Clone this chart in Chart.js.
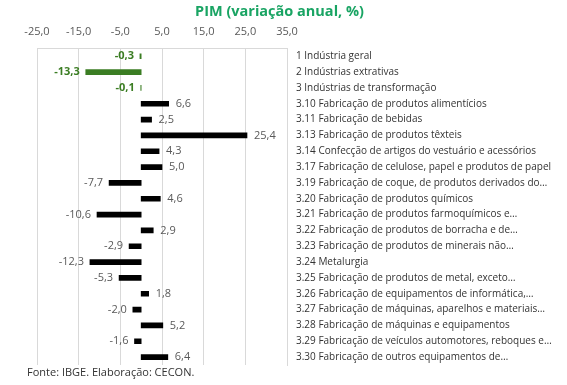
<!DOCTYPE html>
<html>
<head>
<meta charset="utf-8">
<script src="https://cdn.jsdelivr.net/npm/chart.js@4"></script>
<style>
  html, body { margin: 0; padding: 0; background: #fff; }
  #wrap { width: 567px; height: 385px; position: relative; }
</style>
</head>
<body>
<div id="wrap"><canvas id="chart-pim"></canvas></div>
<script>
// PIM — variação anual por atividade
const categories = [
  '1 Indústria geral',
  '2 Indústrias extrativas',
  '3 Indústrias de transformação',
  '3.10 Fabricação de produtos alimentícios',
  '3.11 Fabricação de bebidas',
  '3.13 Fabricação de produtos têxteis',
  '3.14 Confecção de artigos do vestuário e acessórios',
  '3.17 Fabricação de celulose, papel e produtos de papel',
  '3.19 Fabricação de coque, de produtos derivados do…',
  '3.20 Fabricação de produtos químicos',
  '3.21 Fabricação de produtos farmoquímicos e…',
  '3.22 Fabricação de produtos de borracha e de…',
  '3.23 Fabricação de produtos de minerais não…',
  '3.24 Metalurgia',
  '3.25 Fabricação de produtos de metal, exceto…',
  '3.26 Fabricação de equipamentos de informática,…',
  '3.27 Fabricação de máquinas, aparelhos e materiais…',
  '3.28 Fabricação de máquinas e equipamentos',
  '3.29 Fabricação de veículos automotores, reboques e…',
  '3.30 Fabricação de outros equipamentos de…'
];
const values = [-0.3, -13.3, -0.1, 6.6, 2.5, 25.4, 4.3, 5.0, -7.7, 4.6,
                -10.6, 2.9, -2.9, -12.3, -5.3, 1.8, -2.0, 5.2, -1.6, 6.4];
const highlighted = [true, true, true, false, false, false, false, false, false, false,
                     false, false, false, false, false, false, false, false, false, false];
const xTicks = [-25, -15, -5, 5, 15, 25, 35];

const GREEN = '#3b7d23';
const fmt = (v) => v.toFixed(1).replace('.', ',');

// value labels at the end of each bar
const valueLabels = {
  id: 'valueLabels',
  afterDatasetsDraw(chart) {
    const ctx = chart.ctx;
    const meta = chart.getDatasetMeta(0);
    ctx.save();
    ctx.textBaseline = 'middle';
    meta.data.forEach((bar, i) => {
      const v = values[i];
      const hl = highlighted[i];
      ctx.font = (hl ? 'bold ' : '') + '11px "Open Sans", sans-serif';
      ctx.fillStyle = hl ? GREEN : '#595959';
      if (v < 0) {
        ctx.textAlign = 'right';
        ctx.fillText(fmt(v), bar.x - 6, bar.y);
      } else {
        ctx.textAlign = 'left';
        ctx.fillText(fmt(v), bar.x + 7, bar.y);
      }
    });
    ctx.restore();
  }
};

// source note
const sourceNote = {
  id: 'sourceNote',
  afterDraw(chart) {
    const ctx = chart.ctx;
    ctx.save();
    ctx.font = '11px "Open Sans", sans-serif';
    ctx.fillStyle = '#333';
    ctx.textAlign = 'left';
    ctx.textBaseline = 'middle';
    ctx.fillText('Fonte: IBGE. Elaboração: CECON.', 27, 373);
    ctx.restore();
  }
};

new Chart(document.getElementById('chart-pim'), {
  type: 'bar',
  data: {
    labels: categories,
    datasets: [{
      data: values,
      backgroundColor: highlighted.map(h => h ? GREEN : '#000'),
      barThickness: 5,
      borderWidth: 0,
    }]
  },
  options: {
    indexAxis: 'y',
    responsive: true,
    maintainAspectRatio: false,
    animation: false,
    layout: { padding: { left: 0, right: 8, top: 0, bottom: 20 } },
    plugins: {
      legend: { display: false },
      tooltip: { enabled: false },
      title: {
        display: true,
        text: 'PIM (variação anual, %)',
        color: '#19a463',
        font: { size: 14.5, weight: 'bold', family: '"Open Sans", sans-serif' },
        padding: { top: 3, bottom: 1.4 }
      }
    },
    scales: {
      x: {
        position: 'top',
        min: -25,
        max: 35,
        afterBuildTicks: (scale) => { scale.ticks = xTicks.map(v => ({ value: v })); },
        afterFit: (scale) => { scale.height = 26.5; },
        grid: { color: '#d9d9d9', drawTicks: false },
        border: { display: true, color: '#d9d9d9' },
        ticks: {
          color: '#595959',
          padding: 9.5,
          maxRotation: 0,
          font: { size: 11, family: '"Open Sans", sans-serif' },
          callback: (v) => fmt(v)
        }
      },
      y: {
        position: 'right',
        grid: { display: false },
        border: { display: true, color: '#d9d9d9' },
        afterFit: (scale) => { scale.width = 272; },
        ticks: {
          color: '#333',
          padding: 1,
          autoSkip: false,
          font: { size: 10, family: '"Open Sans", sans-serif' }
        }
      },
      // empty left gutter so the plot starts where the reference does
      gutter: {
        type: 'linear',
        axis: 'y',
        position: 'left',
        grid: { display: false },
        border: { display: false },
        ticks: { display: false },
        afterFit: (scale) => { scale.width = 37; }
      }
    }
  },
  plugins: [valueLabels, sourceNote]
});
</script>
</body>
</html>
